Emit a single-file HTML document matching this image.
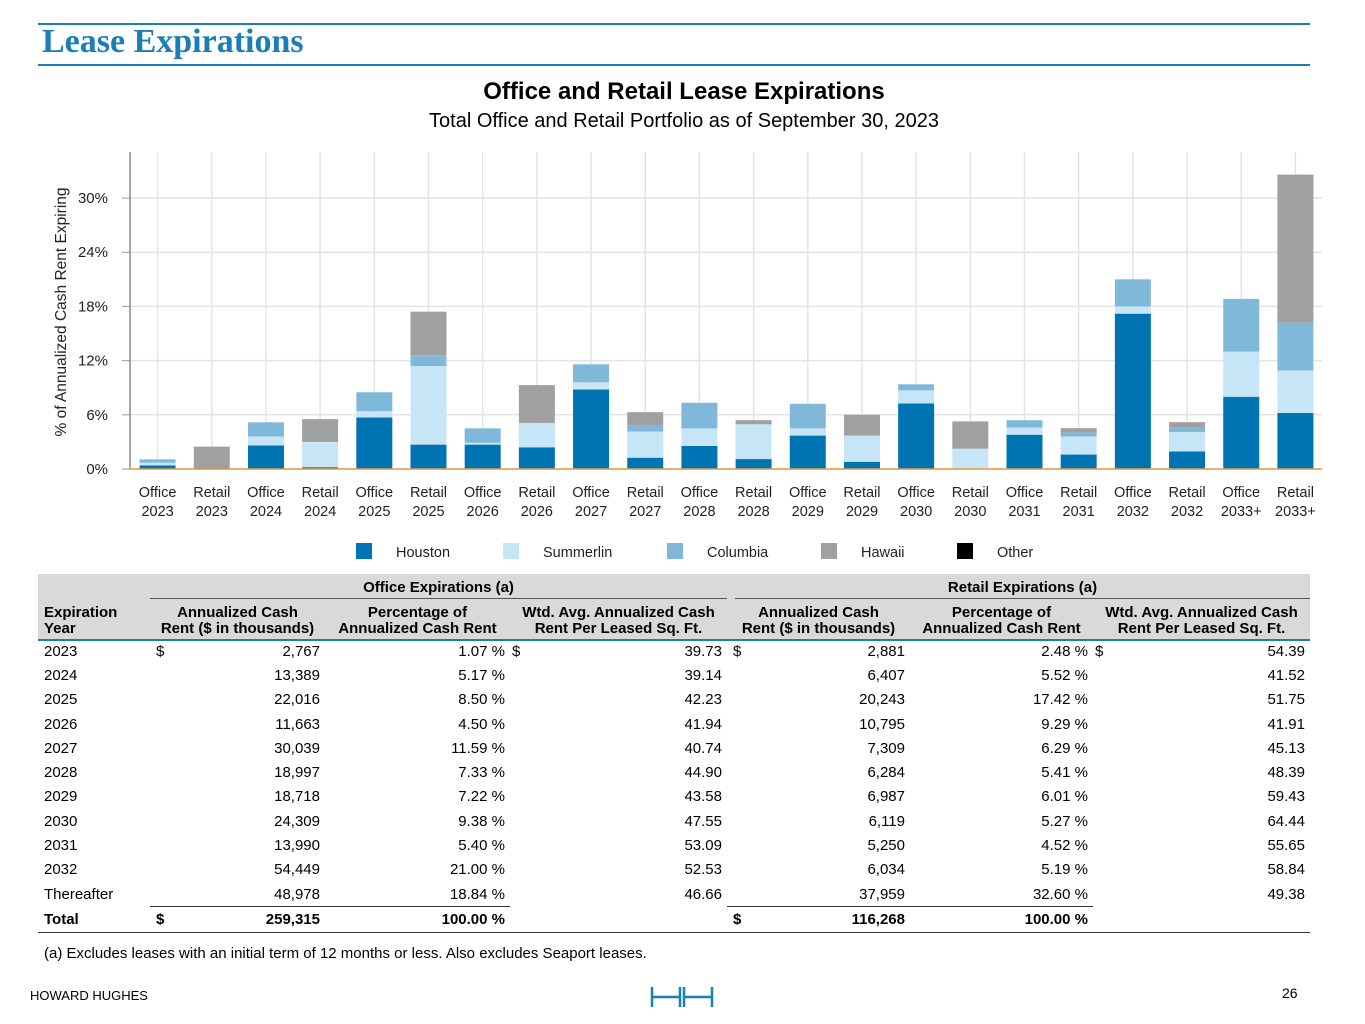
<!DOCTYPE html>
<html><head><meta charset="utf-8">
<style>
body{margin:0;width:1365px;height:1024px;position:relative;background:#fff;font-family:"Liberation Sans",Arial,sans-serif;color:#000;overflow:hidden}
.abs{position:absolute}
table{border-collapse:collapse;table-layout:fixed;font-size:15px}
td,th{padding:0 2px;height:24.3px;white-space:nowrap}
td.n{text-align:right;padding-right:5px}
th{font-weight:bold;line-height:16px}
.d{float:left}
</style></head><body>
<div class="abs" style="left:38px;top:23px;width:1272px;height:2px;background:#1a7fb5"></div>
<div class="abs" style="left:42px;top:23px;font-family:'Liberation Serif',serif;font-weight:bold;font-size:34px;color:#1a7fb5">Lease Expirations</div>
<div class="abs" style="left:38px;top:64px;width:1272px;height:2px;background:#1a7fb5"></div>
<div class="abs" style="left:0;width:1368px;top:78px;text-align:center;font-weight:bold;font-size:24px">Office and Retail Lease Expirations</div>
<div class="abs" style="left:0;width:1368px;top:110px;text-align:center;font-size:20px">Total Office and Retail Portfolio as of September 30, 2023</div>

<svg class="abs" style="left:0;top:0" width="1365" height="570" id="chart"></svg>

<script>
const categories=["Office\n2023","Retail\n2023","Office\n2024","Retail\n2024","Office\n2025","Retail\n2025","Office\n2026","Retail\n2026","Office\n2027","Retail\n2027","Office\n2028","Retail\n2028","Office\n2029","Retail\n2029","Office\n2030","Retail\n2030","Office\n2031","Retail\n2031","Office\n2032","Retail\n2032","Office\n2033+","Retail\n2033+"];
const houston=[0.4,0.1,2.6,0.2,5.7,2.7,2.7,2.4,8.8,1.25,2.55,1.1,3.7,0.8,7.25,0,3.8,1.6,17.2,1.95,8.0,6.2];
const summerlin=[0.3,0,1.0,2.8,0.7,8.7,0.2,2.7,0.8,2.9,1.95,3.85,0.8,2.9,1.45,2.25,0.8,2.0,0.8,2.15,5.0,4.7];
const columbia=[0.37,0,1.57,0,2.1,1.2,1.6,0,1.99,0.65,2.83,0,2.72,0,0.68,0,0.8,0.45,3.0,0.55,5.84,5.3];
const hawaii=[0,2.38,0,2.52,0,4.82,0,4.19,0,1.49,0,0.46,0,2.31,0,3.02,0,0.47,0,0.54,0,16.4];
const other=[0,0,0,0,0,0,0,0,0,0,0,0,0,0,0,0,0,0,0,0,0,0];
const yTicks=[0,6,12,18,24,30];
const seriesNames=["Houston","Summerlin","Columbia","Hawaii","Other"];
const colors=["#0073b3","#c6e5f6","#7fb8d9","#a0a0a0","#000000"];

const NS="http://www.w3.org/2000/svg";
const svg=document.getElementById('chart');
const X0=130,X1=1322,Y0=469,YMAX=35.1,PTOP=152;
const y=v=>Y0-(v/YMAX)*(Y0-PTOP);
const step=(X1-X0)/categories.length;
const x=i=>X0+step*(i+0.5)+0.5;
function mk(t,a){const e=document.createElementNS(NS,t);for(const k in a)e.setAttribute(k,a[k]);svg.appendChild(e);return e;}
yTicks.forEach(v=>{
  const g=mk('line',{x1:X0,x2:X1,y1:y(v),y2:y(v),stroke:'#e4e4e4','stroke-width':1.5});
  
  
  const tk=mk('line',{x1:X0-8,x2:X0,y1:y(v),y2:y(v),stroke:'#999'});
  
  
  const t=mk('text',{x:108,y:y(v)+5,'text-anchor':'end','font-size':15,fill:'#222'});
  t.textContent=v+'%';
  
  
});
categories.forEach((c,i)=>{
  const g=mk('line',{x1:x(i),x2:x(i),y1:PTOP,y2:Y0,stroke:'#e4e4e4','stroke-width':1.5});
  
  
});
const yl=mk('line',{x1:X0,x2:X0,y1:PTOP,y2:Y0,stroke:'#888','stroke-width':1.5});


const series=[houston,summerlin,columbia,hawaii,other];
categories.forEach((c,i)=>{
  let acc=0;
  series.forEach((s,k)=>{
    const v=s[i]; if(!v) return;
    const r=mk('rect',{x:x(i)-18,width:36,y:y(acc+v),height:y(acc)-y(acc+v),fill:colors[k]});
    
    
    acc+=v;
  });
  const lines=c.split('\n');
  lines.forEach((ln,j)=>{
    const t=mk('text',{x:x(i),y:497+j*19,'text-anchor':'middle','font-size':14.5,fill:'#222'});
    t.textContent=ln;
    
    
  });
});
const zl=mk('line',{x1:X0,x2:X1,y1:Y0,y2:Y0,stroke:'#e0a040','stroke-width':1.5});


const yt=mk('text',{x:0,y:0,'text-anchor':'middle','font-size':15.5,fill:'#222',transform:'translate(66,312) rotate(-90)'});
yt.textContent='% of Annualized Cash Rent Expiring';


const lx=[356,503,667,821,957];
seriesNames.forEach((n,k)=>{
  const r=mk('rect',{x:lx[k],y:543,width:16,height:16,fill:colors[k]});
  
  
  const t=mk('text',{x:lx[k]+40,y:557,'font-size':14.5,fill:'#222'});
  t.textContent=n;
  
  
});
</script>

<div class="abs" style="left:38px;top:574px;width:1272px;height:66px;background:#d9d9d9"></div>
<div class="abs" style="left:150px;top:598px;width:577px;height:1px;background:#555"></div>
<div class="abs" style="left:735px;top:598px;width:575px;height:1px;background:#555"></div>
<div class="abs" style="left:38px;top:639px;width:1272px;height:2px;background:#1a7fb5"></div>
<div class="abs" style="left:150px;width:577px;top:579px;text-align:center;font-weight:bold;font-size:15px">Office Expirations (a)</div>
<div class="abs" style="left:735px;width:575px;top:579px;text-align:center;font-weight:bold;font-size:15px">Retail Expirations (a)</div>

<table class="abs" style="left:38px;top:602px;width:1272px">
<colgroup><col style="width:112px"><col style="width:175px"><col style="width:185px"><col style="width:217px"><col style="width:183px"><col style="width:183px"><col style="width:217px"></colgroup>
<tr style="height:37px">
<th style="text-align:left;padding-left:6px">Expiration<br>Year</th><th>Annualized Cash<br>Rent ($ in thousands)</th><th>Percentage of<br>Annualized Cash Rent</th><th>Wtd. Avg. Annualized Cash<br>Rent Per Leased Sq. Ft.</th><th>Annualized Cash<br>Rent ($ in thousands)</th><th>Percentage of<br>Annualized Cash Rent</th><th>Wtd. Avg. Annualized Cash<br>Rent Per Leased Sq. Ft.</th></tr>
<tr><td style="padding-left:6px">2023</td><td class="n"><span class="d" style="padding-left:4px">$</span>2,767</td><td class="n">1.07 %</td><td class="n"><span class="d">$</span>39.73</td><td class="n"><span class="d" style="padding-left:4px">$</span>2,881</td><td class="n">2.48 %</td><td class="n"><span class="d">$</span>54.39</td></tr>
<tr><td style="padding-left:6px">2024</td><td class="n">13,389</td><td class="n">5.17 %</td><td class="n">39.14</td><td class="n">6,407</td><td class="n">5.52 %</td><td class="n">41.52</td></tr>
<tr><td style="padding-left:6px">2025</td><td class="n">22,016</td><td class="n">8.50 %</td><td class="n">42.23</td><td class="n">20,243</td><td class="n">17.42 %</td><td class="n">51.75</td></tr>
<tr><td style="padding-left:6px">2026</td><td class="n">11,663</td><td class="n">4.50 %</td><td class="n">41.94</td><td class="n">10,795</td><td class="n">9.29 %</td><td class="n">41.91</td></tr>
<tr><td style="padding-left:6px">2027</td><td class="n">30,039</td><td class="n">11.59 %</td><td class="n">40.74</td><td class="n">7,309</td><td class="n">6.29 %</td><td class="n">45.13</td></tr>
<tr><td style="padding-left:6px">2028</td><td class="n">18,997</td><td class="n">7.33 %</td><td class="n">44.90</td><td class="n">6,284</td><td class="n">5.41 %</td><td class="n">48.39</td></tr>
<tr><td style="padding-left:6px">2029</td><td class="n">18,718</td><td class="n">7.22 %</td><td class="n">43.58</td><td class="n">6,987</td><td class="n">6.01 %</td><td class="n">59.43</td></tr>
<tr><td style="padding-left:6px">2030</td><td class="n">24,309</td><td class="n">9.38 %</td><td class="n">47.55</td><td class="n">6,119</td><td class="n">5.27 %</td><td class="n">64.44</td></tr>
<tr><td style="padding-left:6px">2031</td><td class="n">13,990</td><td class="n">5.40 %</td><td class="n">53.09</td><td class="n">5,250</td><td class="n">4.52 %</td><td class="n">55.65</td></tr>
<tr><td style="padding-left:6px">2032</td><td class="n">54,449</td><td class="n">21.00 %</td><td class="n">52.53</td><td class="n">6,034</td><td class="n">5.19 %</td><td class="n">58.84</td></tr>
<tr><td style="padding-left:6px">Thereafter</td><td class="n" style="border-bottom:1px solid #333">48,978</td><td class="n" style="border-bottom:1px solid #333">18.84 %</td><td class="n">46.66</td><td class="n" style="border-bottom:1px solid #333">37,959</td><td class="n" style="border-bottom:1px solid #333">32.60 %</td><td class="n">49.38</td></tr>
<tr style="font-weight:bold;border-bottom:1.5px solid #333;height:22px"><td style="padding-left:6px;height:22px">Total</td><td class="n"><span class="d" style="padding-left:4px">$</span>259,315</td><td class="n">100.00 %</td><td></td><td class="n"><span class="d" style="padding-left:4px">$</span>116,268</td><td class="n">100.00 %</td><td></td></tr>
</table>

<div class="abs" style="left:44px;top:945px;font-size:15px">(a) Excludes leases with an initial term of 12 months or less. Also excludes Seaport leases.</div>
<div class="abs" style="left:30px;top:988px;font-size:13px">HOWARD HUGHES</div>
<svg class="abs" style="left:650px;top:985px" width="66" height="24">
<g stroke="#1a7fb5" stroke-width="2.5" fill="none"><line x1="2" y1="2" x2="2" y2="22"/><line x1="2" y1="12" x2="30" y2="12"/><line x1="30" y1="2" x2="30" y2="22"/><line x1="34" y1="2" x2="34" y2="22"/><line x1="34" y1="12" x2="62" y2="12"/><line x1="62" y1="2" x2="62" y2="22"/></g></svg>
<div class="abs" style="left:1282px;top:985px;font-size:14px">26</div>
</body></html>
